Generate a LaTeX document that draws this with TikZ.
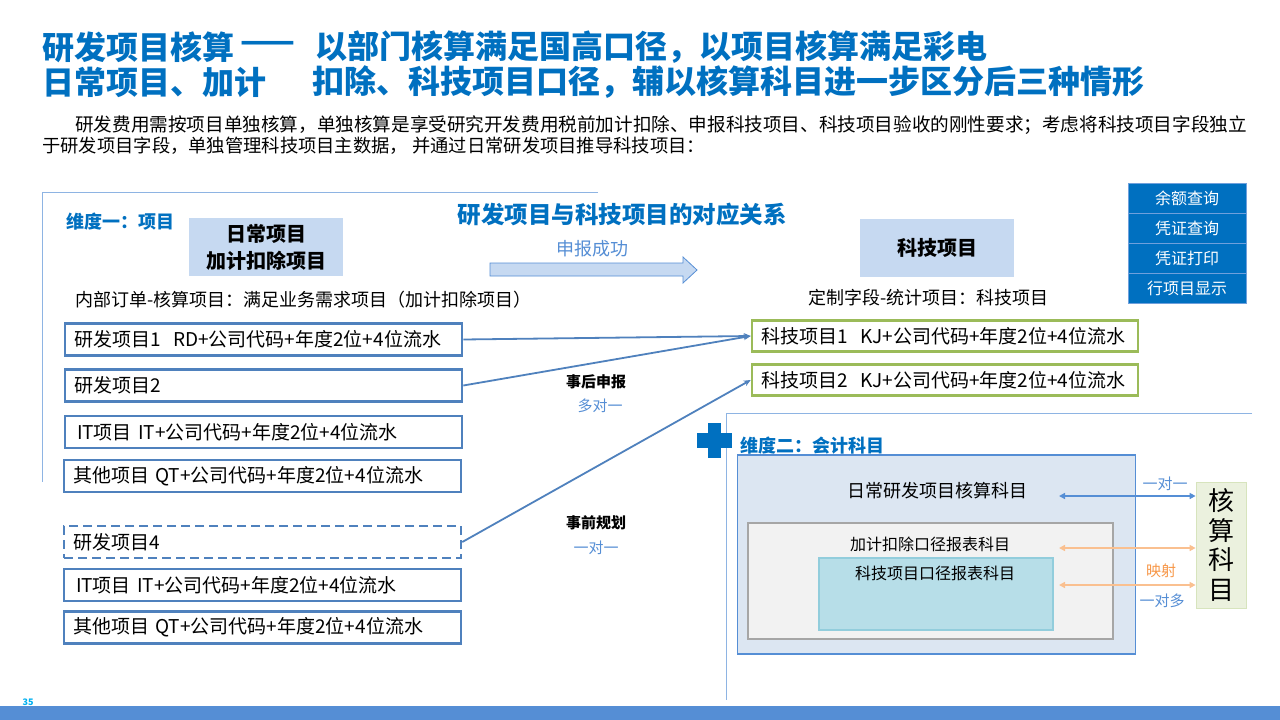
\documentclass[tikz,border=0pt]{standalone}
\usepackage{fontspec}
\setmainfont{Noto Sans CJK SC}
\usetikzlibrary{arrows.meta}
\definecolor{tblue}{HTML}{0070C0}
\definecolor{lblue}{HTML}{558ED5}
\definecolor{sblue}{HTML}{4F81BD}
\definecolor{fblue}{HTML}{C6D9F1}
\definecolor{framec}{HTML}{8EB4E3}
\definecolor{kgreen}{HTML}{9BBB59}
\definecolor{obfill}{HTML}{DCE6F2}
\definecolor{obdraw}{HTML}{558ED5}
\definecolor{gfill}{HTML}{F2F2F2}
\definecolor{gdraw}{HTML}{A6A6A6}
\definecolor{cfill}{HTML}{B7DEE8}
\definecolor{cdraw}{HTML}{92CDDC}
\definecolor{orangea}{HTML}{FAC090}
\definecolor{oranget}{HTML}{F79646}
\definecolor{kmfill}{HTML}{EBF1DE}
\definecolor{kmdraw}{HTML}{D7E4BD}
\definecolor{menudraw}{HTML}{6FA0DC}
\definecolor{numc}{HTML}{00B0F0}
\newcommand\fsz[1]{\fontsize{#1}{#1}\selectfont}
\begin{document}
\begin{tikzpicture}[x=1pt,y=-1pt,
  txt/.style={inner sep=0pt, anchor=west},
  itembox/.style={draw=sblue, line width=2.6pt, fill=white, minimum width=397pt, minimum height=32pt, text width=379pt, inner xsep=9pt, align=left, font=\fsz{19}},
  kjbox/.style={draw=kgreen, line width=2.6pt, fill=white, minimum width=386pt, minimum height=31pt, text width=368pt, inner xsep=9pt, align=left, font=\fsz{19}},
  headbox/.style={fill=fblue, minimum width=154pt, minimum height=58pt, align=center, font=\fontsize{20}{27}\selectfont\bfseries},
  menubox/.style={fill=tblue, draw=menudraw, line width=1pt, minimum width=118pt, minimum height=30pt, text=white, font=\fsz{16}},
  conn/.style={draw=sblue, line width=1.8pt, -{Stealth[length=7pt,width=6pt]}},
  framel/.style={draw=framec, line width=1pt},
  btxt/.style={inner sep=0pt, font=\fsz{15}\bfseries},
  ltxt/.style={inner sep=0pt, font=\fsz{15}, text=lblue}
]
\useasboundingbox (0,0) rectangle (1280,720);
\fill[white] (0,0) rectangle (1280,720);

% titles
\node[txt, text=tblue, font=\fsz{32}\bfseries] (t1a) at (42,47) {研发项目核算};
\node[txt, text=tblue, font=\fsz{32}\bfseries] (t1b) at (240,47) {——};
\node[txt, text=tblue, font=\fsz{32}\bfseries] (t1c) at (315,47) {以部门核算满足国高口径，以项目核算满足彩电};
\node[txt, text=tblue, font=\fsz{32}\bfseries] (t2a) at (42,82) {日常项目、加计};
\node[txt, text=tblue, font=\fsz{32}\bfseries] (t2b) at (312,82) {扣除、科技项目口径，辅以核算科目进一步区分后三种情形};

% paragraph
\node[txt, font=\fsz{18.6}] (p1) at (75,125) {研发费用需按项目单独核算，单独核算是享受研究开发费用税前加计扣除、申报科技项目、科技项目验收的刚性要求；考虑将科技项目字段独立};
\node[txt, font=\fsz{18.3}] (p2) at (42,146) {于研发项目字段，单独管理科技项目主数据， 并通过日常研发项目推导科技项目：};

% frames
\draw[framel] (598,192) -- (42,192) -- (42,482);
\draw[framel] (1252,413) -- (726,413) -- (726,700);

% dimension one
\node[txt, text=tblue, font=\fsz{18}\bfseries] (d1) at (66,222) {维度一：项目};
\node[headbox] (h1) at (266,247) {日常项目\\加计扣除项目};
\node[inner sep=0pt, text=tblue, font=\fsz{23.5}\bfseries] (rel) at (622,215) {研发项目与科技项目的对应关系};
\node[inner sep=0pt, text=lblue, font=\fsz{18}] (sb) at (592,249) {申报成功};
\draw[draw=lblue, fill=fblue, line width=0.8pt] (490,263) -- (683,263) -- (683,257) -- (697,270) -- (683,283) -- (683,276) -- (490,276) -- cycle;
\node[headbox] (h2) at (937,248) {科技项目};

\node[txt, font=\fsz{18}] (l1) at (75,300) {内部订单-核算项目：满足业务需求项目（加计扣除项目）};
\node[txt, font=\fsz{18}] (l2) at (808,298) {定制字段-统计项目：科技项目};

% menu
\node[menubox] (m1) at (1187,198) {余额查询};
\node[menubox] (m2) at (1187,228) {凭证查询};
\node[menubox] (m3) at (1187,258) {凭证打印};
\node[menubox] (m4) at (1187,288) {行项目显示};

% left item boxes
\node[itembox] (b1) at (263.5,339.5) {研发项目1\ \ RD+公司代码+年度2位+4位流水};
\node[itembox] (b2) at (263.5,385.5) {研发项目2};
\node[itembox, inner xsep=12pt, text width=373pt] (b3) at (263.5,432) {IT项目\ IT+公司代码+年度2位+4位流水};
\node[itembox] (b4) at (262.5,476) {其他项目\ QT+公司代码+年度2位+4位流水};
\node[itembox, dashed, dash pattern=on 9pt off 5pt] (b5) at (262.5,542) {研发项目4};
\node[itembox, inner xsep=12pt, text width=373pt] (b6) at (262.5,585) {IT项目\ IT+公司代码+年度2位+4位流水};
\node[itembox] (b7) at (262.5,627.5) {其他项目\ QT+公司代码+年度2位+4位流水};

% right kj boxes
\node[kjbox] (k1) at (945,336) {科技项目1\ \ KJ+公司代码+年度2位+4位流水};
\node[kjbox] (k2) at (945,380) {科技项目2\ \ KJ+公司代码+年度2位+4位流水};

% connectors
\draw[conn] (b1.east) -- (k1.west);
\draw[conn] (b2.east) -- (k1.west);
\draw[conn] (b5.east) -- (k2.west);

\node[btxt] (e1) at (596,382) {事后申报};
\node[ltxt] (e2) at (600,406) {多对一};
\node[btxt] (e3) at (596,523) {事前规划};
\node[ltxt] (e4) at (596,548) {一对一};

% dimension two
\fill[tblue] (708,423) rectangle (721,458);
\fill[tblue] (697,433) rectangle (732,448);
\node[txt, text=tblue, font=\fsz{18}\bfseries] (d2) at (740,446) {维度二：会计科目};

\node[draw=obdraw, fill=obfill, line width=1.8pt, minimum width=398pt, minimum height=199pt] (ob) at (936.5,554.5) {};
\node[inner sep=0pt, font=\fsz{18}] (obt) at (937,491) {日常研发项目核算科目};
\node[draw=gdraw, fill=gfill, line width=1.8pt, minimum width=365pt, minimum height=116pt] (gb) at (930.5,581) {};
\node[inner sep=0pt, font=\fsz{16}] (gbt) at (930,544) {加计扣除口径报表科目};
\node[draw=cdraw, fill=cfill, line width=1.2pt, minimum width=234pt, minimum height=72pt] (cb) at (936,594) {};
\node[inner sep=0pt, font=\fsz{16}] (cbt) at (935,573) {科技项目口径报表科目};

\node[draw=kmdraw, fill=kmfill, line width=0.8pt, minimum width=50pt, minimum height=126pt, align=center, inner sep=0pt, font=\fontsize{26}{29.5}\selectfont] (km) at (1221,545) {核\\算\\科\\目};

\coordinate (a1) at (1059,496);
\coordinate (a2) at (1059,548);
\coordinate (a3) at (1059,585);
\draw[draw=lblue, line width=1.5pt, {Triangle[length=6pt,width=6pt]}-{Triangle[length=6pt,width=6pt]}] (a1) -- (a1 -| km.west);
\draw[draw=orangea, line width=1.5pt, {Triangle[length=6pt,width=6pt]}-{Triangle[length=6pt,width=6pt]}] (a2) -- (a2 -| km.west);
\draw[draw=orangea, line width=1.5pt, {Triangle[length=6pt,width=6pt]}-{Triangle[length=6pt,width=6pt]}] (a3) -- (a3 -| km.west);
\node[ltxt] (r1) at (1165,484) {一对一};
\node[inner sep=0pt, font=\fsz{15}, text=oranget] (r2) at (1161,571) {映射};
\node[ltxt] (r3) at (1162,601) {一对多};

% bottom bar
\fill[lblue] (0,706) rectangle (1280,720);
\node[inner sep=0pt, font=\fsz{9}\bfseries, text=numc] (pg) at (28,702) {35};
\end{tikzpicture}
\end{document}
